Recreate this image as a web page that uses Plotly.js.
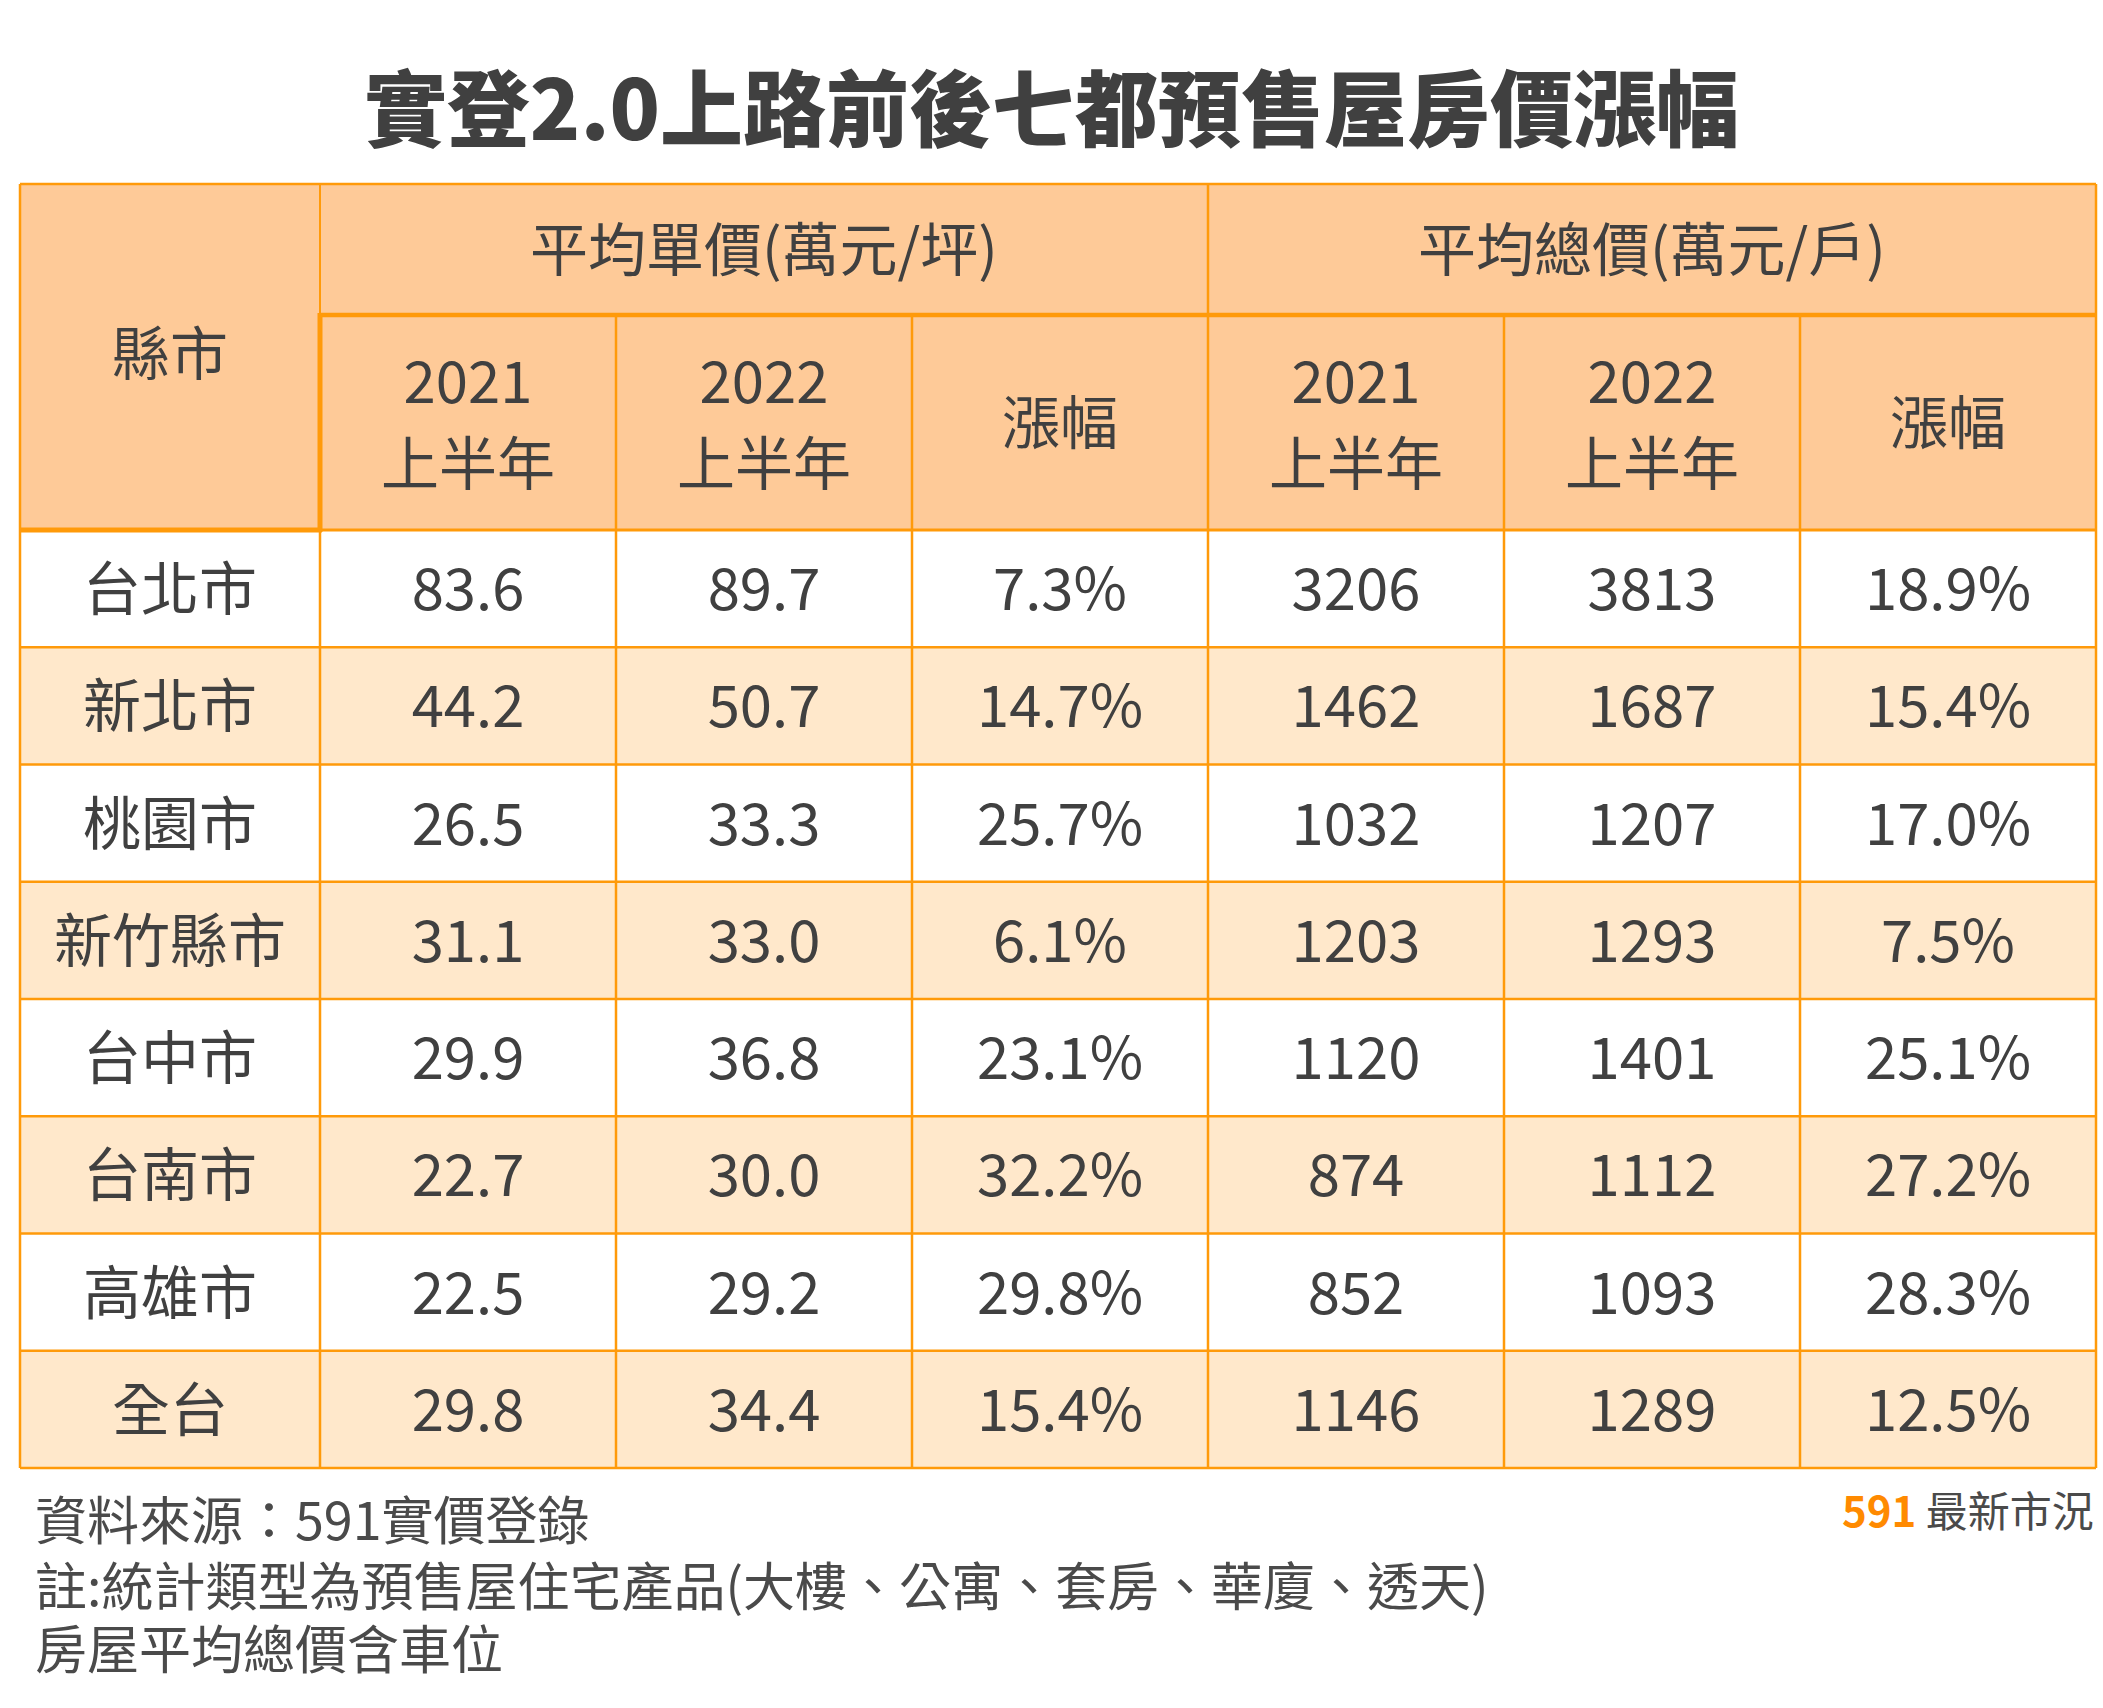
<!DOCTYPE html>
<html>
<head>
<meta charset="utf-8">
<script src="https://cdn.plot.ly/plotly-3.0.1.min.js"></script>
<style>html,body{margin:0;padding:0;background:#fff}#chart{width:2103px;height:1708px}</style>
</head>
<body>
<div id="chart"></div>
<script>
// ---------- data ----------
const titleText = '實登2.0上路前後七都預售屋房價漲幅';
const cityHeader = '縣市';
const groupLabels = ['平均單價(萬元/坪)', '平均總價(萬元/戶)'];
const yearLabels = ['2021', '2022'];
const halfLabel = '上半年';
const changeLabel = '漲幅';
const cities = ['台北市', '新北市', '桃園市', '新竹縣市', '台中市', '台南市', '高雄市', '全台'];
const unit2021 = [83.6, 44.2, 26.5, 31.1, 29.9, 22.7, 22.5, 29.8];
const unit2022 = [89.7, 50.7, 33.3, 33.0, 36.8, 30.0, 29.2, 34.4];
const unitChange = [7.3, 14.7, 25.7, 6.1, 23.1, 32.2, 29.8, 15.4];
const total2021 = [3206, 1462, 1032, 1203, 1120, 874, 852, 1146];
const total2022 = [3813, 1687, 1207, 1293, 1401, 1112, 1093, 1289];
const totalChange = [18.9, 15.4, 17.0, 7.5, 25.1, 27.2, 28.3, 12.5];
const footerLines = ['資料來源：591實價登錄', '註:統計類型為預售屋住宅產品(大樓、公寓、套房、華廈、透天)', '房屋平均總價含車位'];
const brandNumber = '591';
const brandText = '最新市況';

// ---------- layout constants ----------
const W = 2103, H = 1708;
const colEdges = [20, 320, 616, 912, 1208, 1504, 1800, 2096];
const headTop = 184, headMid = 315, headBot = 530, rowH = 117.25;
const FONT = '"Noto Sans CJK TC", "Noto Sans CJK SC", "Noto Sans", sans-serif';
const TXT = '#404040', ORANGE = '#FF9A0A', HEAD = '#FECA98', ALT = '#FFE8CB';
const FS = 58;
const DY = 7; // optical vertical correction for CJK text

const nRows = cities.length;
const rowTop = i => headBot + i * rowH;
const rowCenters = cities.map((_, i) => rowTop(i) + rowH / 2 + DY);
const colCenter = j => (colEdges[j] + colEdges[j + 1]) / 2;
const tableBottom = rowTop(nRows);

const columns = [
  cities,
  unit2021.map(v => v.toFixed(1)),
  unit2022.map(v => v.toFixed(1)),
  unitChange.map(v => v.toFixed(1) + '%'),
  total2021.map(v => String(v)),
  total2022.map(v => String(v)),
  totalChange.map(v => v.toFixed(1) + '%')
];

// ---------- shapes ----------
const shapes = [];
shapes.push({type: 'rect', xref: 'x', yref: 'y', x0: colEdges[0], x1: colEdges[7], y0: headTop, y1: headBot,
  fillcolor: HEAD, line: {width: 0}, layer: 'below'});
for (let i = 0; i < nRows; i++) {
  shapes.push({type: 'rect', xref: 'x', yref: 'y', x0: colEdges[0], x1: colEdges[7], y0: rowTop(i), y1: rowTop(i + 1),
    fillcolor: i % 2 ? ALT : '#FFFFFF', line: {width: 0}, layer: 'below'});
}
function hline(y, x0, x1, w) { shapes.push({type: 'line', xref: 'x', yref: 'y', x0: x0, x1: x1, y0: y, y1: y, line: {color: ORANGE, width: w}}); }
function vline(x, y0, y1, w) { shapes.push({type: 'line', xref: 'x', yref: 'y', x0: x, x1: x, y0: y0, y1: y1, line: {color: ORANGE, width: w}}); }
for (let i = 1; i < nRows; i++) hline(rowTop(i), colEdges[0], colEdges[7], 2.5);
[2, 3, 5, 6].forEach(j => vline(colEdges[j], headMid, tableBottom, 2.5));
vline(colEdges[4], headTop, tableBottom, 2.5);
vline(colEdges[1], headTop, headMid, 2);
vline(colEdges[1], headBot, tableBottom, 2.5);
hline(headMid, colEdges[1], colEdges[7], 4.5);
hline(headBot, colEdges[1], colEdges[7], 3);
hline(headBot, colEdges[0], colEdges[1] + 2, 5);
vline(colEdges[1], headMid - 2, headBot + 2, 5);
hline(headTop, colEdges[0], colEdges[7], 2.5);
hline(tableBottom, colEdges[0], colEdges[7], 2.5);
vline(colEdges[0], headTop, tableBottom, 2.5);
vline(colEdges[7], headTop, tableBottom, 2.5);

// ---------- traces ----------
const traces = [];
const textTrace = (x, y, text, size) => ({
  type: 'scatter', mode: 'text', x: x, y: y, text: text, textposition: 'middle center',
  textfont: {family: FONT, size: size || FS, color: TXT}, hoverinfo: 'skip', showlegend: false, cliponaxis: false
});
traces.push(textTrace([colCenter(0)], [(headTop + headBot) / 2 + 3], [cityHeader]));
traces.push(textTrace(
  [(colEdges[1] + colEdges[4]) / 2, (colEdges[4] + colEdges[7]) / 2],
  [(headTop + headMid) / 2 + DY, (headTop + headMid) / 2 + DY], groupLabels));
const subX = [], subY = [], subT = [];
[0, 1].forEach(g => {
  yearLabels.forEach((yr, k) => {
    const j = 1 + g * 3 + k;
    subX.push(colCenter(j)); subY.push(381 + DY); subT.push(yr);
    subX.push(colCenter(j)); subY.push(463 + DY); subT.push(halfLabel);
  });
  subX.push(colCenter(1 + g * 3 + 2)); subY.push((headMid + headBot) / 2 + DY); subT.push(changeLabel);
});
traces.push(textTrace(subX, subY, subT));
columns.forEach((col, j) => {
  traces.push(textTrace(col.map(() => colCenter(j)), rowCenters, col));
});

// ---------- annotations ----------
const footerY = [1517, 1583, 1646];
const annotations = footerLines.map((t, i) => ({
  text: t, xref: 'x', yref: 'y', x: 33, y: footerY[i], xanchor: 'left', yanchor: 'middle',
  align: 'left', showarrow: false, font: {family: FONT, size: 52, color: '#4A4A4A'}
}));
annotations.push({
  text: '<b><span style="color:#FF8A00">' + brandNumber + '</span></b> ' + brandText,
  xref: 'x', yref: 'y', x: 2096, y: 1508, xanchor: 'right', yanchor: 'middle', showarrow: false,
  font: {family: FONT, size: 42, color: '#4A4A4A'}
});

const layout = {
  width: W, height: H, margin: {l: 0, r: 0, t: 0, b: 0},
  paper_bgcolor: '#FFFFFF', plot_bgcolor: '#FFFFFF', showlegend: false,
  title: {text: titleText, x: 0.5, xanchor: 'center', y: 1 - 111 / H, yanchor: 'middle',
    font: {family: FONT, size: 83, color: TXT, weight: 900}},
  xaxis: {range: [0, W], visible: false, fixedrange: true},
  yaxis: {range: [H, 0], visible: false, fixedrange: true},
  shapes: shapes, annotations: annotations
};

Plotly.newPlot('chart', traces, layout, {displayModeBar: false, staticPlot: true});
</script>
</body>
</html>
